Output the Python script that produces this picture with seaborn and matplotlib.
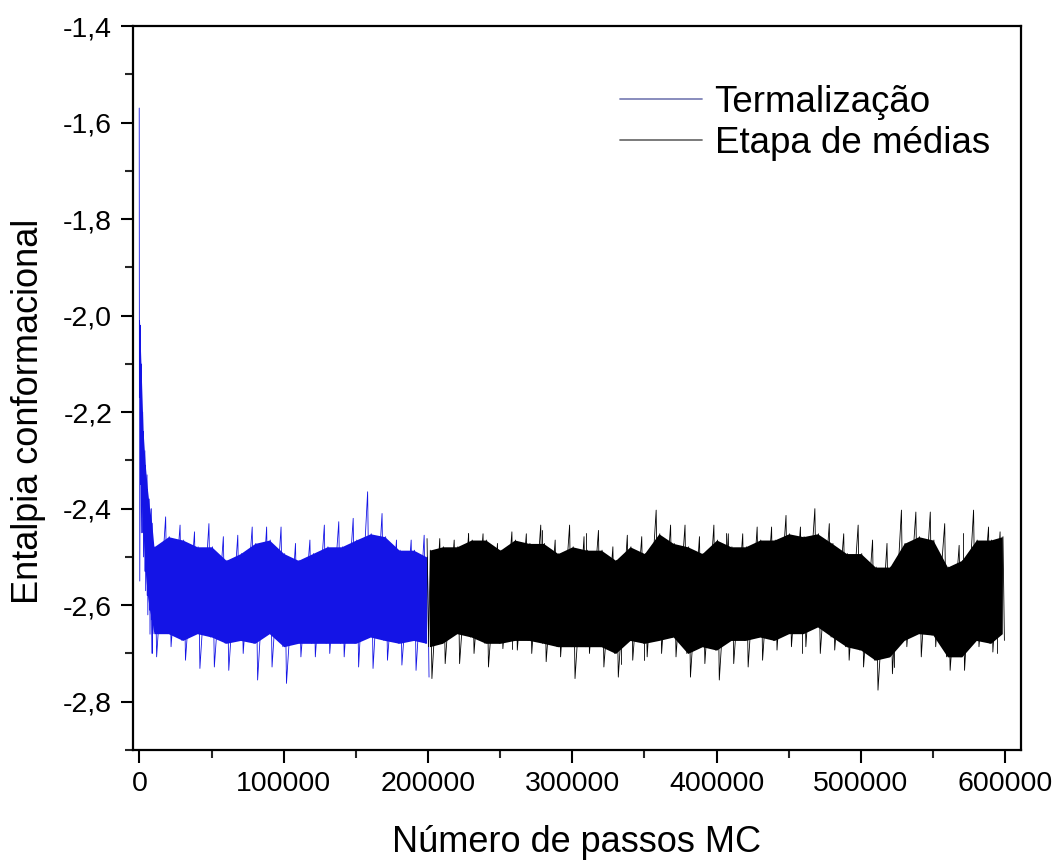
import numpy as np
import pandas as pd
import seaborn as sns
import matplotlib
matplotlib.use("Agg")
import matplotlib.pyplot as plt
from matplotlib.lines import Line2D
from matplotlib.ticker import MultipleLocator, FuncFormatter

# ---------------- data ----------------
# Each bin: spike maximum (hi), top of dense core (top), bottom of dense core (bot), spike minimum (lo)
therm_steps = [0, 1000, 2500, 4000, 5500, 7000, 8500, 10000,
               20000, 30000, 40000, 50000, 60000, 70000, 80000, 90000, 100000,
               110000, 120000, 130000, 140000, 150000, 160000, 170000, 180000, 190000, 199000]
therm_hi = [-1.57, -2.02, -2.20, -2.28, -2.33, -2.38, -2.40, -2.44,
            -2.417, -2.434, -2.448, -2.431, -2.458, -2.455, -2.438, -2.438, -2.438,
            -2.472, -2.465, -2.434, -2.427, -2.420, -2.365, -2.410, -2.465, -2.465, -2.455]
therm_top = [-2.01, -2.10, -2.24, -2.31, -2.36, -2.40, -2.43, -2.479,
             -2.458, -2.465, -2.479, -2.479, -2.507, -2.493, -2.472, -2.465, -2.493,
             -2.507, -2.493, -2.479, -2.479, -2.465, -2.452, -2.458, -2.486, -2.486, -2.500]
therm_bot = [-2.17, -2.35, -2.45, -2.53, -2.58, -2.61, -2.63, -2.659,
             -2.659, -2.673, -2.659, -2.666, -2.679, -2.673, -2.679, -2.659, -2.686,
             -2.679, -2.679, -2.679, -2.679, -2.679, -2.666, -2.673, -2.679, -2.673, -2.679]
therm_lo = [-2.55, -2.45, -2.50, -2.57, -2.62, -2.66, -2.70, -2.707,
            -2.686, -2.714, -2.731, -2.728, -2.735, -2.700, -2.755, -2.728, -2.762,
            -2.707, -2.707, -2.700, -2.707, -2.728, -2.731, -2.714, -2.724, -2.735, -2.749]

avg_steps = [201000, 210000, 220000, 230000, 240000, 250000, 260000, 270000, 280000, 290000,
             300000, 310000, 320000, 330000, 340000, 350000, 360000, 370000, 380000, 390000,
             400000, 410000, 420000, 430000, 440000, 450000, 460000, 470000, 480000, 490000,
             500000, 510000, 520000, 530000, 540000, 550000, 560000, 570000, 580000, 590000, 598000]
avg_hi = [-2.462, -2.462, -2.465, -2.452, -2.452, -2.472, -2.448, -2.452, -2.434, -2.465,
          -2.434, -2.458, -2.445, -2.479, -2.455, -2.458, -2.403, -2.434, -2.434, -2.458,
          -2.434, -2.452, -2.452, -2.438, -2.438, -2.414, -2.438, -2.400, -2.431, -2.452,
          -2.434, -2.465, -2.472, -2.403, -2.407, -2.407, -2.431, -2.476, -2.403, -2.438, -2.448]
avg_top = [-2.486, -2.479, -2.479, -2.465, -2.465, -2.486, -2.465, -2.472, -2.472, -2.493,
           -2.479, -2.486, -2.486, -2.507, -2.479, -2.493, -2.452, -2.472, -2.479, -2.493,
           -2.465, -2.479, -2.479, -2.465, -2.465, -2.452, -2.458, -2.452, -2.472, -2.493,
           -2.493, -2.521, -2.521, -2.472, -2.458, -2.465, -2.521, -2.507, -2.465, -2.465, -2.458]
avg_bot = [-2.686, -2.679, -2.659, -2.666, -2.679, -2.679, -2.673, -2.673, -2.679, -2.686,
           -2.686, -2.686, -2.686, -2.700, -2.673, -2.679, -2.673, -2.666, -2.700, -2.686,
           -2.693, -2.673, -2.673, -2.666, -2.673, -2.659, -2.659, -2.645, -2.666, -2.686,
           -2.693, -2.714, -2.707, -2.673, -2.659, -2.662, -2.707, -2.707, -2.673, -2.679, -2.659]
avg_lo = [-2.752, -2.721, -2.721, -2.700, -2.728, -2.690, -2.693, -2.700, -2.717, -2.707,
          -2.752, -2.700, -2.728, -2.749, -2.714, -2.707, -2.700, -2.707, -2.749, -2.721,
          -2.755, -2.721, -2.728, -2.714, -2.693, -2.686, -2.686, -2.700, -2.693, -2.714,
          -2.728, -2.776, -2.742, -2.686, -2.707, -2.686, -2.735, -2.735, -2.686, -2.697, -2.673]

# Additional isolated spikes of the averaging stage seen between the bin extremes
avg_extra_steps = [227500, 279000, 309500, 406500, 570500,
                   258000, 333500, 349500, 459500, 523000, 594500]
avg_extra_tips = [-2.451, -2.445, -2.451, -2.451, -2.451,
                  -2.690, -2.721, -2.714, -2.700, -2.728, -2.700]
avg_core_level = -2.58   # a level inside the dense core, where the spikes start

series_labels = ["Termalização", "Etapa de médias"]
x_label = "Número de passos MC"
y_label = "Entalpia conformacional"


def zigzag(steps, hi, top, bot, lo):
    """Path that visits, in each bin, the spike max, the core, and the spike min."""
    xs, ys = [], []
    n = len(steps)
    for i in range(n):
        gap = (steps[i + 1] - steps[i]) if i < n - 1 else (steps[i] - steps[i - 1])
        w = gap / 8.0
        xs += [steps[i] - 1.5 * w, steps[i] - 0.5 * w, steps[i] + 0.5 * w, steps[i] + 1.5 * w]
        ys += [hi[i], bot[i], top[i], lo[i]]
    return pd.DataFrame({"step": xs, "H": ys})


def spikes(steps, tips, base):
    rows = []
    for i, (s, t) in enumerate(zip(steps, tips)):
        rows.append({"step": s, "H": base, "id": i})
        rows.append({"step": s, "H": t, "id": i})
    return pd.DataFrame(rows)


# ---------------- styling ----------------
sns.set_theme(style="white")
plt.rcParams["font.family"] = ["Liberation Sans", "DejaVu Sans"]
plt.rcParams["text.color"] = "black"

W, H = 1054, 860
fig = plt.figure(figsize=(W / 100, H / 100), dpi=100)
ax = fig.add_axes([133 / W, 1 - 750 / H, (1021 - 133) / W, (750 - 26) / H])

blue = "#1414e6"
black = "#000000"

ax.fill_between(therm_steps, therm_top, therm_bot, color=blue, lw=0)
sns.lineplot(data=zigzag(therm_steps, therm_hi, therm_top, therm_bot, therm_lo),
             x="step", y="H", sort=False, estimator=None, color=blue, lw=0.6, ax=ax)
ax.fill_between(avg_steps, avg_top, avg_bot, color=black, lw=0)
sns.lineplot(data=zigzag(avg_steps, avg_hi, avg_top, avg_bot, avg_lo),
             x="step", y="H", sort=False, estimator=None, color=black, lw=0.6, ax=ax)
sns.lineplot(data=spikes(avg_extra_steps, avg_extra_tips, avg_core_level),
             x="step", y="H", units="id", sort=False, estimator=None, color=black, lw=0.6, ax=ax)

ax.set_xlim(-4500, 611000)
ax.set_ylim(-2.9, -1.4)

for s in ax.spines.values():
    s.set_visible(True)
    s.set_color("black")
    s.set_linewidth(1.6)

ax.xaxis.set_major_locator(MultipleLocator(100000))
ax.xaxis.set_minor_locator(MultipleLocator(50000))
ax.yaxis.set_major_locator(MultipleLocator(0.2))
ax.yaxis.set_minor_locator(MultipleLocator(0.1))
ax.xaxis.set_major_formatter(FuncFormatter(lambda v, p: f"{int(round(v))}"))
ax.yaxis.set_major_formatter(FuncFormatter(lambda v, p: f"{v:.1f}".replace(".", ",")))
ax.tick_params(axis="both", which="major", direction="out", length=9, width=1.5,
               labelsize=20.5, colors="black", pad=6, bottom=True, left=True, top=False, right=False)
ax.tick_params(axis="both", which="minor", direction="out", length=5.5, width=1.5,
               bottom=True, left=True, top=False, right=False)
ax.tick_params(axis="x", which="major", pad=6)

ax.set_xlabel(x_label, fontsize=26, labelpad=20, color="black")
ax.set_ylabel(y_label, fontsize=26, color="black")
ax.yaxis.set_label_coords(-0.098, 0.468)

handles = [Line2D([], [], color="#7f83b8", lw=1.3), Line2D([], [], color="#707070", lw=1.3)]
leg = ax.legend(handles, series_labels, loc="upper left", bbox_to_anchor=(0.548, 0.918),
                frameon=False, fontsize=26.5, handlelength=2.25, handletextpad=0.33,
                labelspacing=0.15, borderpad=0, borderaxespad=0)
for t in leg.get_texts():
    t.set_color("black")

fig.savefig("out.png", dpi=100)
